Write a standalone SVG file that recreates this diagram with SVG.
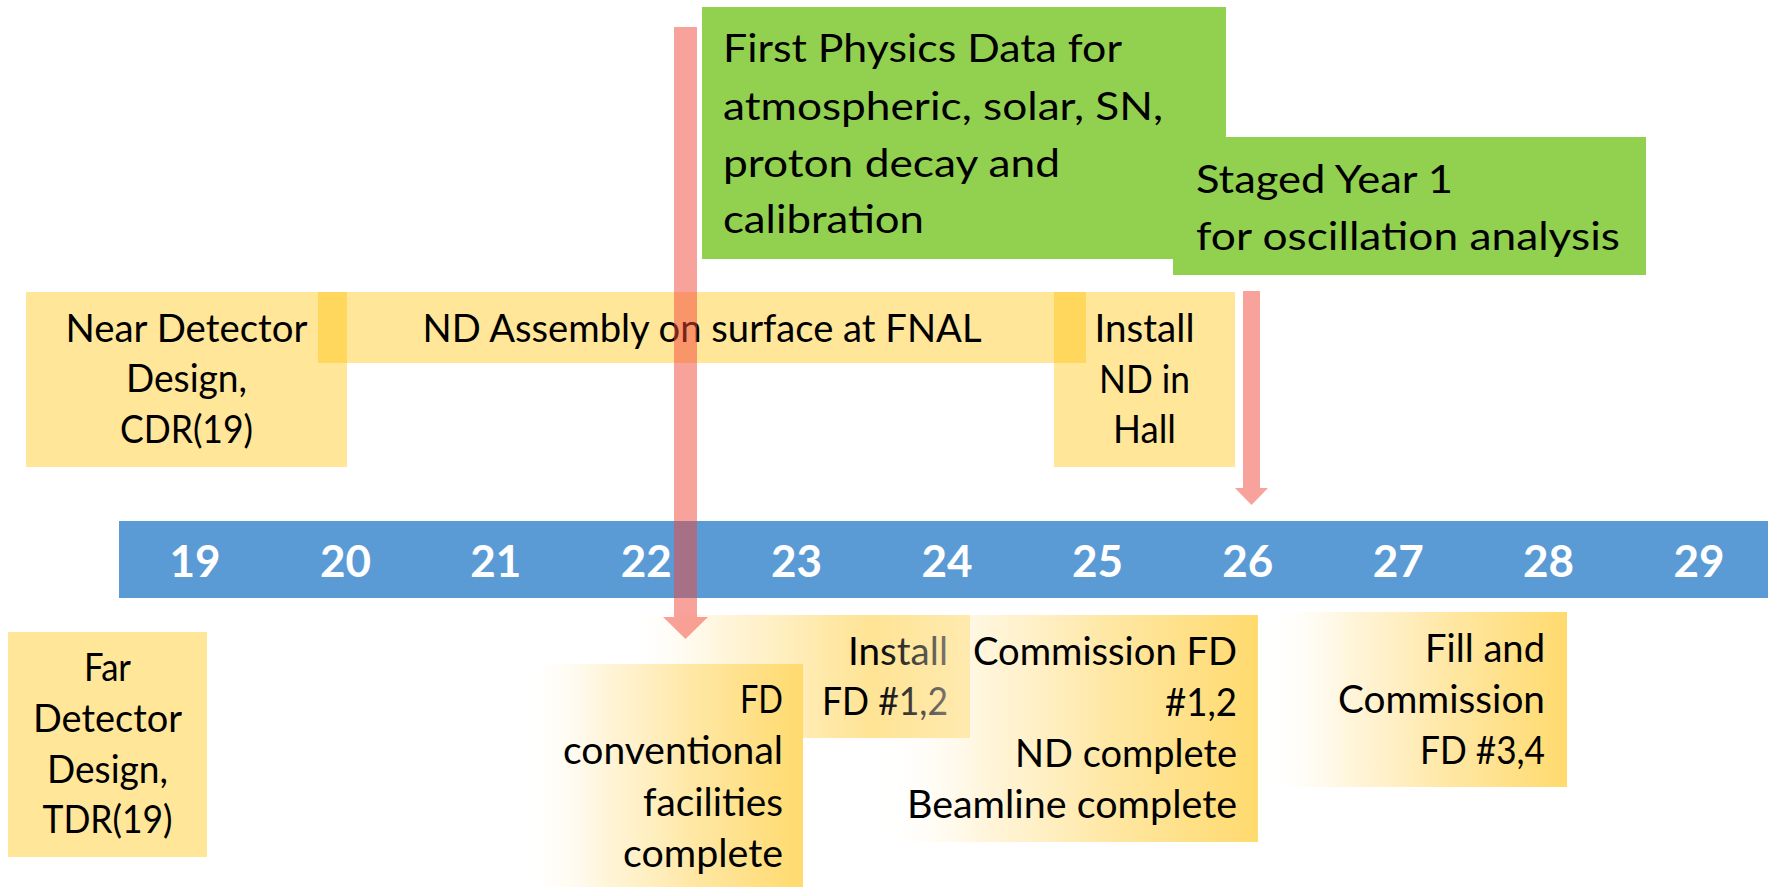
<svg xmlns="http://www.w3.org/2000/svg" width="1768" height="888" viewBox="0 0 1768 888">
  <defs>
    <style>
      .t { font-family: Lato, "Noto Sans", "Liberation Sans", sans-serif; font-size: 38px; fill: #000; }
      .c { text-anchor: middle; }
      .r { text-anchor: end; }
      .yr { font-family: Lato, "Noto Sans", "Liberation Sans", sans-serif; font-size: 44px; font-weight: 700; fill: #fff; text-anchor: middle; }
      .solid { fill: #FFC000; fill-opacity: 0.4; }
      .green { fill: #92D050; }
      .fade { fill: url(#fade); }
      .bar { fill: #5B9BD5; }
      .arrow { fill: #F1453A; fill-opacity: 0.5; }
    </style>
    <!-- soft left-to-right fill used by the milestone boxes under the bar -->
    <linearGradient id="fade" x1="0" y1="0" x2="1" y2="0">
      <stop offset="0" stop-color="#FFFFFF" stop-opacity="0"/>
      <stop offset="0.3" stop-color="#FFF1CC" stop-opacity="0.75"/>
      <stop offset="0.6" stop-color="#FFE8A6" stop-opacity="1"/>
      <stop offset="1" stop-color="#FFDA6E" stop-opacity="1"/>
    </linearGradient>
  </defs>

  <rect width="1768" height="888" fill="#fff"/>

  <!-- physics milestones -->
  <g id="first-physics">
    <rect class="green" x="702" y="7" width="524" height="252"/>
    <text class="t" x="723" y="62" textLength="399" lengthAdjust="spacingAndGlyphs">First Physics Data for</text>
    <text class="t" x="723" y="120" textLength="440" lengthAdjust="spacingAndGlyphs">atmospheric, solar, SN,</text>
    <text class="t" x="723" y="177" textLength="337" lengthAdjust="spacingAndGlyphs">proton decay and</text>
    <text class="t" x="723" y="233" textLength="201" lengthAdjust="spacingAndGlyphs">calibration</text>
  </g>
  <g id="staged-year-1">
    <rect class="green" x="1173" y="137" width="473" height="138"/>
    <text class="t" x="1196" y="193" textLength="257" lengthAdjust="spacingAndGlyphs">Staged Year 1</text>
    <text class="t" x="1196" y="250" textLength="424" lengthAdjust="spacingAndGlyphs">for oscillation analysis</text>
  </g>

  <!-- near detector track -->
  <g id="nd-design">
    <rect class="solid" x="26" y="292" width="321" height="175"/>
    <text class="t c" x="186.5" y="342" textLength="242" lengthAdjust="spacingAndGlyphs">Near Detector</text>
    <text class="t c" x="186.5" y="392" textLength="121" lengthAdjust="spacingAndGlyphs">Design,</text>
    <text class="t c" x="186.5" y="443" textLength="133" lengthAdjust="spacingAndGlyphs">CDR(19)</text>
  </g>
  <g id="nd-assembly">
    <rect class="solid" x="318" y="292" width="768" height="71"/>
    <text class="t c" x="702" y="342" textLength="559" lengthAdjust="spacingAndGlyphs">ND Assembly on surface at FNAL</text>
  </g>
  <g id="nd-install">
    <rect class="solid" x="1054" y="292" width="181" height="175"/>
    <text class="t c" x="1144.5" y="342" textLength="100" lengthAdjust="spacingAndGlyphs">Install</text>
    <text class="t c" x="1144.5" y="393" textLength="91" lengthAdjust="spacingAndGlyphs">ND in</text>
    <text class="t c" x="1144.5" y="443" textLength="63" lengthAdjust="spacingAndGlyphs">Hall</text>
  </g>

  <!-- year axis -->
  <g id="timeline">
    <rect class="bar" x="119" y="521" width="1649" height="77"/>
    <text class="yr" x="195" y="577">19</text>
    <text class="yr" x="345.4" y="577">20</text>
    <text class="yr" x="495.8" y="577">21</text>
    <text class="yr" x="646.2" y="577">22</text>
    <text class="yr" x="796.6" y="577">23</text>
    <text class="yr" x="947" y="577">24</text>
    <text class="yr" x="1097.4" y="577">25</text>
    <text class="yr" x="1247.8" y="577">26</text>
    <text class="yr" x="1398.2" y="577">27</text>
    <text class="yr" x="1548.6" y="577">28</text>
    <text class="yr" x="1699" y="577">29</text>
  </g>

  <!-- far detector track -->
  <g id="fd-design">
    <rect class="solid" x="8" y="632" width="199" height="225"/>
    <text class="t c" x="107.5" y="681" textLength="47" lengthAdjust="spacingAndGlyphs">Far</text>
    <text class="t c" x="107.5" y="732" textLength="149" lengthAdjust="spacingAndGlyphs">Detector</text>
    <text class="t c" x="107.5" y="783" textLength="121" lengthAdjust="spacingAndGlyphs">Design,</text>
    <text class="t c" x="107.5" y="833" textLength="130" lengthAdjust="spacingAndGlyphs">TDR(19)</text>
  </g>
  <g id="fd-install">
    <rect class="fade" x="620" y="615" width="350" height="123"/>
    <text class="t r" x="948" y="665" textLength="100" lengthAdjust="spacingAndGlyphs">Install</text>
    <text class="t r" x="948" y="715" textLength="126" lengthAdjust="spacingAndGlyphs">FD #1,2</text>
  </g>
  <g id="fd-facilities">
    <rect class="fade" x="520" y="664" width="283" height="223"/>
    <text class="t r" x="783" y="713" textLength="43" lengthAdjust="spacingAndGlyphs">FD</text>
    <text class="t r" x="783" y="764" textLength="220" lengthAdjust="spacingAndGlyphs">conventional</text>
    <text class="t r" x="783" y="816" textLength="140" lengthAdjust="spacingAndGlyphs">facilities</text>
    <text class="t r" x="783" y="867" textLength="160" lengthAdjust="spacingAndGlyphs">complete</text>
  </g>
  <g id="fd-commission">
    <rect class="fade" x="873" y="615" width="385" height="227"/>
    <text class="t r" x="1237" y="665" textLength="264" lengthAdjust="spacingAndGlyphs">Commission FD</text>
    <text class="t r" x="1237" y="716" textLength="72" lengthAdjust="spacingAndGlyphs">#1,2</text>
    <text class="t r" x="1237" y="767" textLength="222" lengthAdjust="spacingAndGlyphs">ND complete</text>
    <text class="t r" x="1237" y="818" textLength="330" lengthAdjust="spacingAndGlyphs">Beamline complete</text>
  </g>
  <g id="fd-fill">
    <rect class="fade" x="1260" y="612" width="307" height="175"/>
    <text class="t r" x="1545" y="662" textLength="120" lengthAdjust="spacingAndGlyphs">Fill and</text>
    <text class="t r" x="1545" y="713" textLength="207" lengthAdjust="spacingAndGlyphs">Commission</text>
    <text class="t r" x="1545" y="764" textLength="125" lengthAdjust="spacingAndGlyphs">FD #3,4</text>
  </g>

  <!-- milestone pointers -->
  <g id="connectors">
    <polygon class="arrow" points="674,27 697,27 697,617 708,617 685.5,639 663,617 674,617"/>
    <polygon class="arrow" points="1243,291 1260,291 1260,488 1268,488 1251.5,505 1235,488 1243,488"/>
  </g>
</svg>
